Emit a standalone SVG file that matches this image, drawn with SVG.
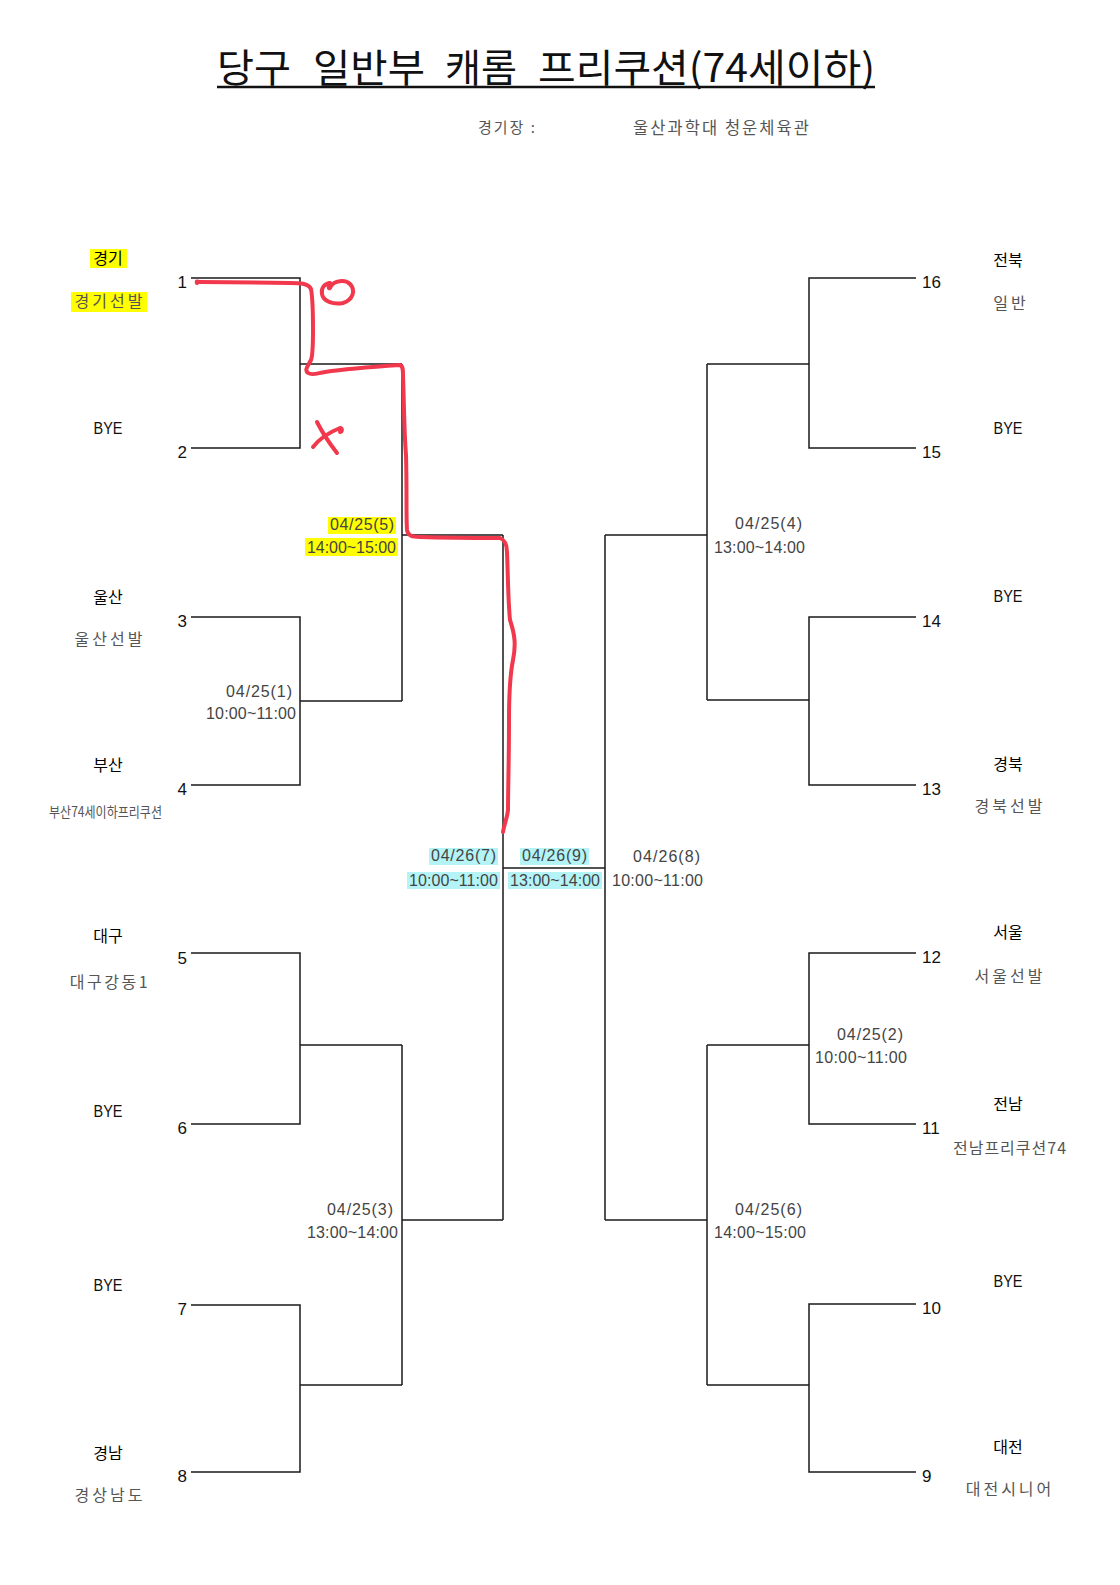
<svg xmlns="http://www.w3.org/2000/svg" width="1120" height="1585" viewBox="0 0 1120 1585">
<style>
.ln{stroke:#1a1a1a;stroke-width:1.5;fill:none}
.num{font-family:"Liberation Sans",Arial,sans-serif;font-size:17px;fill:#111}
.reg{font-family:"Noto Sans CJK KR","Noto Sans",sans-serif;font-size:16px;fill:#000;text-anchor:middle;font-weight:400}
.team{font-family:"Noto Sans CJK KR","Noto Sans",sans-serif;font-size:16px;fill:#555;text-anchor:middle;letter-spacing:3px}
.bye{font-family:"Liberation Sans",Arial,sans-serif;font-size:17px;fill:#111;text-anchor:middle}
.dt{font-family:"Liberation Sans",Arial,sans-serif;font-size:16px;fill:#444}
.tt{font-family:"Noto Sans CJK KR","Noto Sans",sans-serif;font-size:39px;fill:#111}
.hy{fill:#ffff00}
.hc{fill:#b4f4f7}
.red{stroke:#f2384c;stroke-width:4;fill:none;stroke-linecap:round;stroke-linejoin:round}
</style>
<rect width="1120" height="1585" fill="#ffffff"/>

<g id="title">
<text class="tt" y="82"><tspan x="217" textLength="74" lengthAdjust="spacingAndGlyphs">당구</tspan><tspan x="313" textLength="112" lengthAdjust="spacingAndGlyphs">일반부</tspan><tspan x="445" textLength="72" lengthAdjust="spacingAndGlyphs">캐롬</tspan><tspan x="538" textLength="337" lengthAdjust="spacingAndGlyphs">프리쿠션(74세이하)</tspan></text>
<line x1="217" y1="87" x2="875" y2="87" stroke="#111" stroke-width="2.5"/>
<text x="478" y="133" style="font-family:'Noto Sans CJK KR',sans-serif;font-size:15px;fill:#555;letter-spacing:2px">경기장 :</text>
<text x="633" y="134" textLength="176" style="font-family:'Noto Sans CJK KR',sans-serif;font-size:16.5px;fill:#555">울산과학대 청운체육관</text>
</g>

<g id="connectors">
<path class="ln" d="M191 278H300V448H191M300 364H402"/>
<path class="ln" d="M191 617H300V785H191M300 701H402"/>
<path class="ln" d="M402 364V701M402 535H503"/>
<path class="ln" d="M191 953H300V1124H191M300 1045H402"/>
<path class="ln" d="M191 1305H300V1472H191M300 1385H402"/>
<path class="ln" d="M402 1045V1385M402 1220H503"/>
<path class="ln" d="M503 535V1220M503 868H605"/>
<path class="ln" d="M605 535V1220M605 535H707M605 1220H707"/>
<path class="ln" d="M916 278H809V448H916M809 364H707"/>
<path class="ln" d="M916 617H809V785H916M809 700H707"/>
<path class="ln" d="M707 364V700"/>
<path class="ln" d="M916 953H809V1124H916M809 1045H707"/>
<path class="ln" d="M916 1304H809V1472H916M809 1385H707"/>
<path class="ln" d="M707 1045V1385"/>
</g>

<g id="slot1">
<rect class="hy" x="90" y="249" width="37" height="19"/>
<text class="reg" x="108" y="264">경기</text>
<text class="num" x="187" y="288" text-anchor="end">1</text>
<rect class="hy" x="71" y="292" width="76" height="20"/>
<text class="team" x="110" y="307">경기선발</text>
</g>
<g id="slot2">
<text class="bye" x="108" y="434" textLength="29" lengthAdjust="spacingAndGlyphs">BYE</text>
<text class="num" x="187" y="458" text-anchor="end">2</text>
</g>
<g id="slot3">
<text class="reg" x="108" y="603">울산</text>
<text class="num" x="187" y="627" text-anchor="end">3</text>
<text class="team" x="110" y="645">울산선발</text>
</g>
<g id="slot4">
<text class="reg" x="108" y="771">부산</text>
<text class="num" x="187" y="795" text-anchor="end">4</text>
<text x="49" y="817" textLength="113" lengthAdjust="spacingAndGlyphs" style="font-family:'Noto Sans CJK KR',sans-serif;font-size:14px;fill:#555">부산74세이하프리쿠션</text>
</g>
<g id="slot5">
<text class="reg" x="108" y="942">대구</text>
<text class="num" x="187" y="964" text-anchor="end">5</text>
<text class="team" x="110" y="988" style="letter-spacing:2.5px">대구강동1</text>
</g>
<g id="slot6">
<text class="bye" x="108" y="1117" textLength="29" lengthAdjust="spacingAndGlyphs">BYE</text>
<text class="num" x="187" y="1134" text-anchor="end">6</text>
</g>
<g id="slot7">
<text class="bye" x="108" y="1291" textLength="29" lengthAdjust="spacingAndGlyphs">BYE</text>
<text class="num" x="187" y="1315" text-anchor="end">7</text>
</g>
<g id="slot8">
<text class="reg" x="108" y="1459">경남</text>
<text class="num" x="187" y="1482" text-anchor="end">8</text>
<text class="team" x="110" y="1501">경상남도</text>
</g>

<g id="slot16">
<text class="reg" x="1008" y="266">전북</text>
<text class="num" x="922" y="288">16</text>
<text class="team" x="1011" y="309">일반</text>
</g>
<g id="slot15">
<text class="bye" x="1008" y="434" textLength="29" lengthAdjust="spacingAndGlyphs">BYE</text>
<text class="num" x="922" y="458">15</text>
</g>
<g id="slot14">
<text class="bye" x="1008" y="602" textLength="29" lengthAdjust="spacingAndGlyphs">BYE</text>
<text class="num" x="922" y="627">14</text>
</g>
<g id="slot13">
<text class="reg" x="1008" y="770">경북</text>
<text class="num" x="922" y="795">13</text>
<text class="team" x="1010" y="812">경북선발</text>
</g>
<g id="slot12">
<text class="reg" x="1008" y="938">서울</text>
<text class="num" x="922" y="963">12</text>
<text class="team" x="1010" y="982">서울선발</text>
</g>
<g id="slot11">
<text class="reg" x="1008" y="1110">전남</text>
<text class="num" x="922" y="1134">11</text>
<text x="1010" y="1154" text-anchor="middle" style="font-family:'Noto Sans CJK KR',sans-serif;font-size:16px;fill:#555;letter-spacing:1px">전남프리쿠션74</text>
</g>
<g id="slot10">
<text class="bye" x="1008" y="1287" textLength="29" lengthAdjust="spacingAndGlyphs">BYE</text>
<text class="num" x="922" y="1314">10</text>
</g>
<g id="slot9">
<text class="reg" x="1008" y="1453">대전</text>
<text class="num" x="922" y="1482">9</text>
<text class="team" x="1010" y="1495">대전시니어</text>
</g>

<g id="match1">
<text class="dt" x="226" y="697" textLength="66">04/25(1)</text>
<text class="dt" x="206" y="719" textLength="90">10:00~11:00</text>
</g>
<g id="match2">
<text class="dt" x="837" y="1040" textLength="66">04/25(2)</text>
<text class="dt" x="815" y="1063" textLength="92">10:00~11:00</text>
</g>
<g id="match3">
<text class="dt" x="327" y="1215" textLength="66">04/25(3)</text>
<text class="dt" x="307" y="1238" textLength="91">13:00~14:00</text>
</g>
<g id="match4">
<text class="dt" x="735" y="529" textLength="67">04/25(4)</text>
<text class="dt" x="714" y="553" textLength="91">13:00~14:00</text>
</g>
<g id="match5">
<rect class="hy" x="328" y="517" width="68" height="17"/>
<text class="dt" x="330" y="530" textLength="64">04/25(5)</text>
<rect class="hy" x="305" y="538" width="93" height="18"/>
<text class="dt" x="307" y="553" textLength="89">14:00~15:00</text>
</g>
<g id="match6">
<text class="dt" x="735" y="1215" textLength="67">04/25(6)</text>
<text class="dt" x="714" y="1238" textLength="92">14:00~15:00</text>
</g>
<g id="match7">
<rect class="hc" x="429" y="848" width="69" height="17"/>
<text class="dt" x="431" y="861" textLength="65">04/26(7)</text>
<rect class="hc" x="407" y="872" width="93" height="17"/>
<text class="dt" x="409" y="886" textLength="89">10:00~11:00</text>
</g>
<g id="match9">
<rect class="hc" x="520" y="848" width="69" height="17"/>
<text class="dt" x="522" y="861" textLength="65">04/26(9)</text>
<rect class="hc" x="508" y="872" width="94" height="17"/>
<text class="dt" x="510" y="886" textLength="90">13:00~14:00</text>
</g>
<g id="match8">
<text class="dt" x="633" y="862" textLength="67">04/26(8)</text>
<text class="dt" x="612" y="886" textLength="91">10:00~11:00</text>
</g>

<g id="annotation">
<path class="red" d="M197 283 C196 280 198 282 200 282 L290 283 C300 283 308 283 311 289 C313 300 313 320 313 330 C313 345 313 355 311 360 C308 366 304 370 308 373 C312 376 318 373 325 372 C345 369 370 367 400 365 C403 366 403 370 403 375 C404 400 404 430 406 455 C407 490 406 515 407 530 C408 536 412 537 420 537 C450 538 480 538 500 538 C505 540 507 544 507 552 C508 575 508 600 510 620 C515 635 516 645 513 660 C510 675 509 690 509 720 C509 760 508 790 508 810 C507 820 504 824 503 832"/>
<path class="red" d="M329 283 C328 287 329 291 331 286 C334 281 345 279 350 284 C356 290 353 300 343 303 C333 305 323 301 322 294 C321 288 324 284 330 283"/>
<path class="red" d="M317 422 C322 432 330 444 337 453"/>
<path class="red" d="M313 447 C320 438 330 432 340 428 C343 428 342 432 340 432"/>
</g>
</svg>
